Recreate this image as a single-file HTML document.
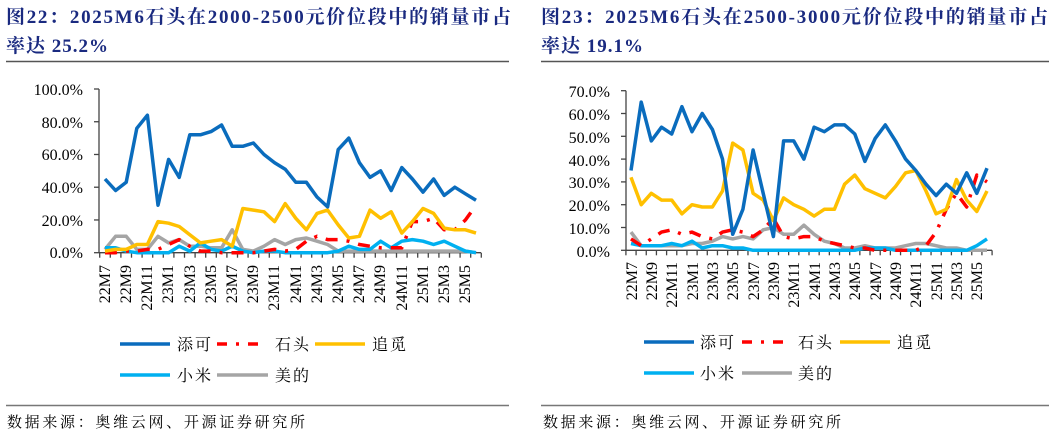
<!DOCTYPE html>
<html><head><meta charset="utf-8">
<style>
body{margin:0;background:#fff;}
svg{display:block;}
.t{font-family:"Liberation Serif","Noto Serif CJK SC",serif;font-weight:bold;font-size:19px;fill:#1a2a80;}
.ax{font-family:"Liberation Serif",serif;font-size:16px;fill:#000;}
.lg{font-family:"Liberation Serif","Noto Serif CJK SC",serif;font-size:16px;fill:#000;}
.ft{font-family:"Liberation Serif","Noto Serif CJK SC",serif;font-size:15px;fill:#000;}
</style></head><body>
<svg id="s" width="1057" height="435" xmlns="http://www.w3.org/2000/svg">
<text class="t" x="6" y="23" textLength="505" lengthAdjust="spacing">图22：2025M6石头在2000-2500元价位段中的销量市占</text>
<text class="t" x="6" y="52" textLength="102" lengthAdjust="spacing">率达 25.2%</text>
<text class="t" x="541" y="23" textLength="507" lengthAdjust="spacing">图23：2025M6石头在2500-3000元价位段中的销量市占</text>
<text class="t" x="541" y="52" textLength="102" lengthAdjust="spacing">率达 19.1%</text>
<line x1="6" y1="61.5" x2="509" y2="61.5" stroke="#555" stroke-width="1.5"/>
<line x1="541" y1="61.5" x2="1049" y2="61.5" stroke="#555" stroke-width="1.5"/>
<line x1="6" y1="405.5" x2="509" y2="405.5" stroke="#777" stroke-width="1.5"/>
<line x1="541" y1="405.5" x2="1049" y2="405.5" stroke="#777" stroke-width="1.5"/>
<text class="ft" x="7" y="427" textLength="298" lengthAdjust="spacing">数据来源：奥维云网、开源证券研究所</text>
<text class="ft" x="543" y="427" textLength="298" lengthAdjust="spacing">数据来源：奥维云网、开源证券研究所</text>

<g class="ax" text-anchor="end">
<text x="83" y="95">100.0%</text><text x="83" y="128">80.0%</text><text x="83" y="160">60.0%</text><text x="83" y="193">40.0%</text><text x="83" y="226">20.0%</text><text x="83" y="258">0.0%</text>
<text x="610" y="97">70.0%</text><text x="610" y="120">60.0%</text><text x="610" y="143">50.0%</text><text x="610" y="166">40.0%</text><text x="610" y="188">30.0%</text><text x="610" y="211">20.0%</text><text x="610" y="234">10.0%</text><text x="610" y="257">0.0%</text>
</g>
<g class="ax" text-anchor="end">
<text transform="translate(110,265) rotate(-90)">22M7</text>
<text transform="translate(131,265) rotate(-90)">22M9</text>
<text transform="translate(152,265) rotate(-90)">22M11</text>
<text transform="translate(173,265) rotate(-90)">23M1</text>
<text transform="translate(195,265) rotate(-90)">23M3</text>
<text transform="translate(216,265) rotate(-90)">23M5</text>
<text transform="translate(237,265) rotate(-90)">23M7</text>
<text transform="translate(258,265) rotate(-90)">23M9</text>
<text transform="translate(279,265) rotate(-90)">23M11</text>
<text transform="translate(301,265) rotate(-90)">24M1</text>
<text transform="translate(322,265) rotate(-90)">24M3</text>
<text transform="translate(343,265) rotate(-90)">24M5</text>
<text transform="translate(364,265) rotate(-90)">24M7</text>
<text transform="translate(385,265) rotate(-90)">24M9</text>
<text transform="translate(407,265) rotate(-90)">24M11</text>
<text transform="translate(428,265) rotate(-90)">25M1</text>
<text transform="translate(449,265) rotate(-90)">25M3</text>
<text transform="translate(470,265) rotate(-90)">25M5</text>
<text transform="translate(637,262) rotate(-90)">22M7</text>
<text transform="translate(657,262) rotate(-90)">22M9</text>
<text transform="translate(677,262) rotate(-90)">22M11</text>
<text transform="translate(698,262) rotate(-90)">23M1</text>
<text transform="translate(718,262) rotate(-90)">23M3</text>
<text transform="translate(738,262) rotate(-90)">23M5</text>
<text transform="translate(759,262) rotate(-90)">23M7</text>
<text transform="translate(779,262) rotate(-90)">23M9</text>
<text transform="translate(799,262) rotate(-90)">23M11</text>
<text transform="translate(820,262) rotate(-90)">24M1</text>
<text transform="translate(840,262) rotate(-90)">24M3</text>
<text transform="translate(860,262) rotate(-90)">24M5</text>
<text transform="translate(881,262) rotate(-90)">24M7</text>
<text transform="translate(901,262) rotate(-90)">24M9</text>
<text transform="translate(921,262) rotate(-90)">24M11</text>
<text transform="translate(942,262) rotate(-90)">25M1</text>
<text transform="translate(962,262) rotate(-90)">25M3</text>
<text transform="translate(982,262) rotate(-90)">25M5</text>
</g>

<g stroke-width="3.5" fill="none">
<line x1="120" y1="344" x2="170" y2="344" stroke="#0a6cbd"/>
<line x1="217" y1="344" x2="262" y2="344" stroke="#ff0000" stroke-dasharray="10,9,3,9,10"/>
<line x1="315" y1="344" x2="365" y2="344" stroke="#ffc000"/>
<line x1="120" y1="375" x2="170" y2="375" stroke="#00b0f0"/>
<line x1="217" y1="375" x2="268" y2="375" stroke="#a5a5a5"/>
<line x1="644" y1="342" x2="694" y2="342" stroke="#0a6cbd"/>
<line x1="742" y1="342" x2="787" y2="342" stroke="#ff0000" stroke-dasharray="10,9,3,9,10"/>
<line x1="840" y1="342" x2="890" y2="342" stroke="#ffc000"/>
<line x1="644" y1="373" x2="694" y2="373" stroke="#00b0f0"/>
<line x1="742" y1="373" x2="792" y2="373" stroke="#a5a5a5"/>
</g>
<g class="lg">
<text x="177" y="350" textLength="34" lengthAdjust="spacing">添可</text><text x="275" y="350" textLength="34" lengthAdjust="spacing">石头</text><text x="372" y="350" textLength="34" lengthAdjust="spacing">追觅</text>
<text x="177" y="381" textLength="34" lengthAdjust="spacing">小米</text><text x="275" y="381" textLength="34" lengthAdjust="spacing">美的</text>
<text x="700" y="348" textLength="34" lengthAdjust="spacing">添可</text><text x="798" y="348" textLength="34" lengthAdjust="spacing">石头</text><text x="897" y="348" textLength="34" lengthAdjust="spacing">追觅</text>
<text x="700" y="379" textLength="34" lengthAdjust="spacing">小米</text><text x="798" y="379" textLength="34" lengthAdjust="spacing">美的</text>
</g>
<g id="plots"></g>
</svg>
<script>
var g=document.getElementById('plots'),NS='http://www.w3.org/2000/svg';
function el(t,a){var e=document.createElementNS(NS,t);for(var k in a)e.setAttribute(k,a[k]);g.appendChild(e);return e;}
function chart(ax,x0,x1,y0,ymax,h,maxv,ticks,ser){
 el('line',{x1:ax,y1:ymax,x2:ax,y2:y0,stroke:'#444','stroke-width':1.3});
 el('line',{x1:ax,y1:y0,x2:x1+5,y2:y0,stroke:'#444','stroke-width':1.3});
 for(var i=0;i<=ticks;i++){var y=y0-(y0-ymax)*i/ticks;el('line',{x1:ax-5,y1:y,x2:ax,y2:y,stroke:'#444','stroke-width':1.3});}
 var n=36,dx=(x1-x0)/(n-1);
 for(var i=0;i<=n;i++){var x=x0-dx/2+i*dx;el('line',{x1:x,y1:y0,x2:x,y2:y0+5,stroke:'#444','stroke-width':1.3});}
 ser.forEach(function(s){var p=s.d.map(function(v,i){return (x0+i*dx).toFixed(1)+','+(y0-v/maxv*(y0-ymax)).toFixed(1)}).join(' ');
  var a={points:p,fill:'none',stroke:s.c,'stroke-width':3.5,'stroke-linejoin':'round'};if(s.dash)a['stroke-dasharray']=s.dash;el('polyline',a);});
}
chart(99,105,476,252.7,89,0,100,5,[
{c:'#a5a5a5',d:[2,10,10,2,2,10,6,8,4,4,3,3,14,2,1,4,8,5,8,9,7,5,1,1,1,1,1,1,1,1,1,1,1,1,1,0]},
{c:'#00b0f0',d:[3,3,1,0,0,0,0,4,1,6,2,1,4,1,0,1,1,0,0,0,0,0,1,4,2,2,7,3,7,8,7,5,7,4,1,0]},
{c:'#ff0000',dash:'12,9,3,9',d:[0,0,1,1,2,2,5,8,4,1,1,0,0,0,0,1,2,1,2,7,10,8,8,7,5,4,3,3,3,19,19,21,14,14,20,29]},
{c:'#ffc000',d:[1,2,2,5,5,19,18,16,11,6,7,8,4,27,26,25,19,30,21,14,24,26,17,9,10,26,21,25,12,19,27,24,15,14,14,12]},
{c:'#0a6cbd',d:[45,38,43,76,84,29,57,46,72,72,74,78,65,65,67,60,55,51,43,43,34,28,63,70,55,46,50,38,52,45,37,45,35,40,36,32]}
]);
chart(626,631,987,250.3,90.7,0,70,7,[
{c:'#a5a5a5',d:[8,2,2,2,2,2,3,3,4,6,5,6,5,9,10,7,7,11,7,4,3,1,1,2,1,1,1,2,3,3,2,1,1,0,0,0]},
{c:'#00b0f0',d:[3,2,2,2,3,2,4,1,2,2,1,1,0,0,0,0,0,0,0,0,0,0,0,1,1,1,0,0,0,0,0,0,0,0,2,5]},
{c:'#ff0000',dash:'12,9,3,9',d:[5,2,5,8,9,7,8,6,5,8,9,8,6,9,14,6,5,6,6,4,3,2,1,1,0,0,0,0,0,2,8,18,25,19,33,30]},
{c:'#ffc000',d:[32,20,25,22,22,16,20,19,19,26,47,44,25,22,13,23,20,18,15,18,18,29,33,27,25,23,28,34,35,26,16,18,31,22,17,26]},
{c:'#0a6cbd',d:[35,65,48,54,51,63,52,60,53,40,7,18,44,25,6,48,48,40,54,52,55,55,51,39,49,55,48,40,35,29,24,29,25,34,25,36]}
]);
</script>
</body></html>
